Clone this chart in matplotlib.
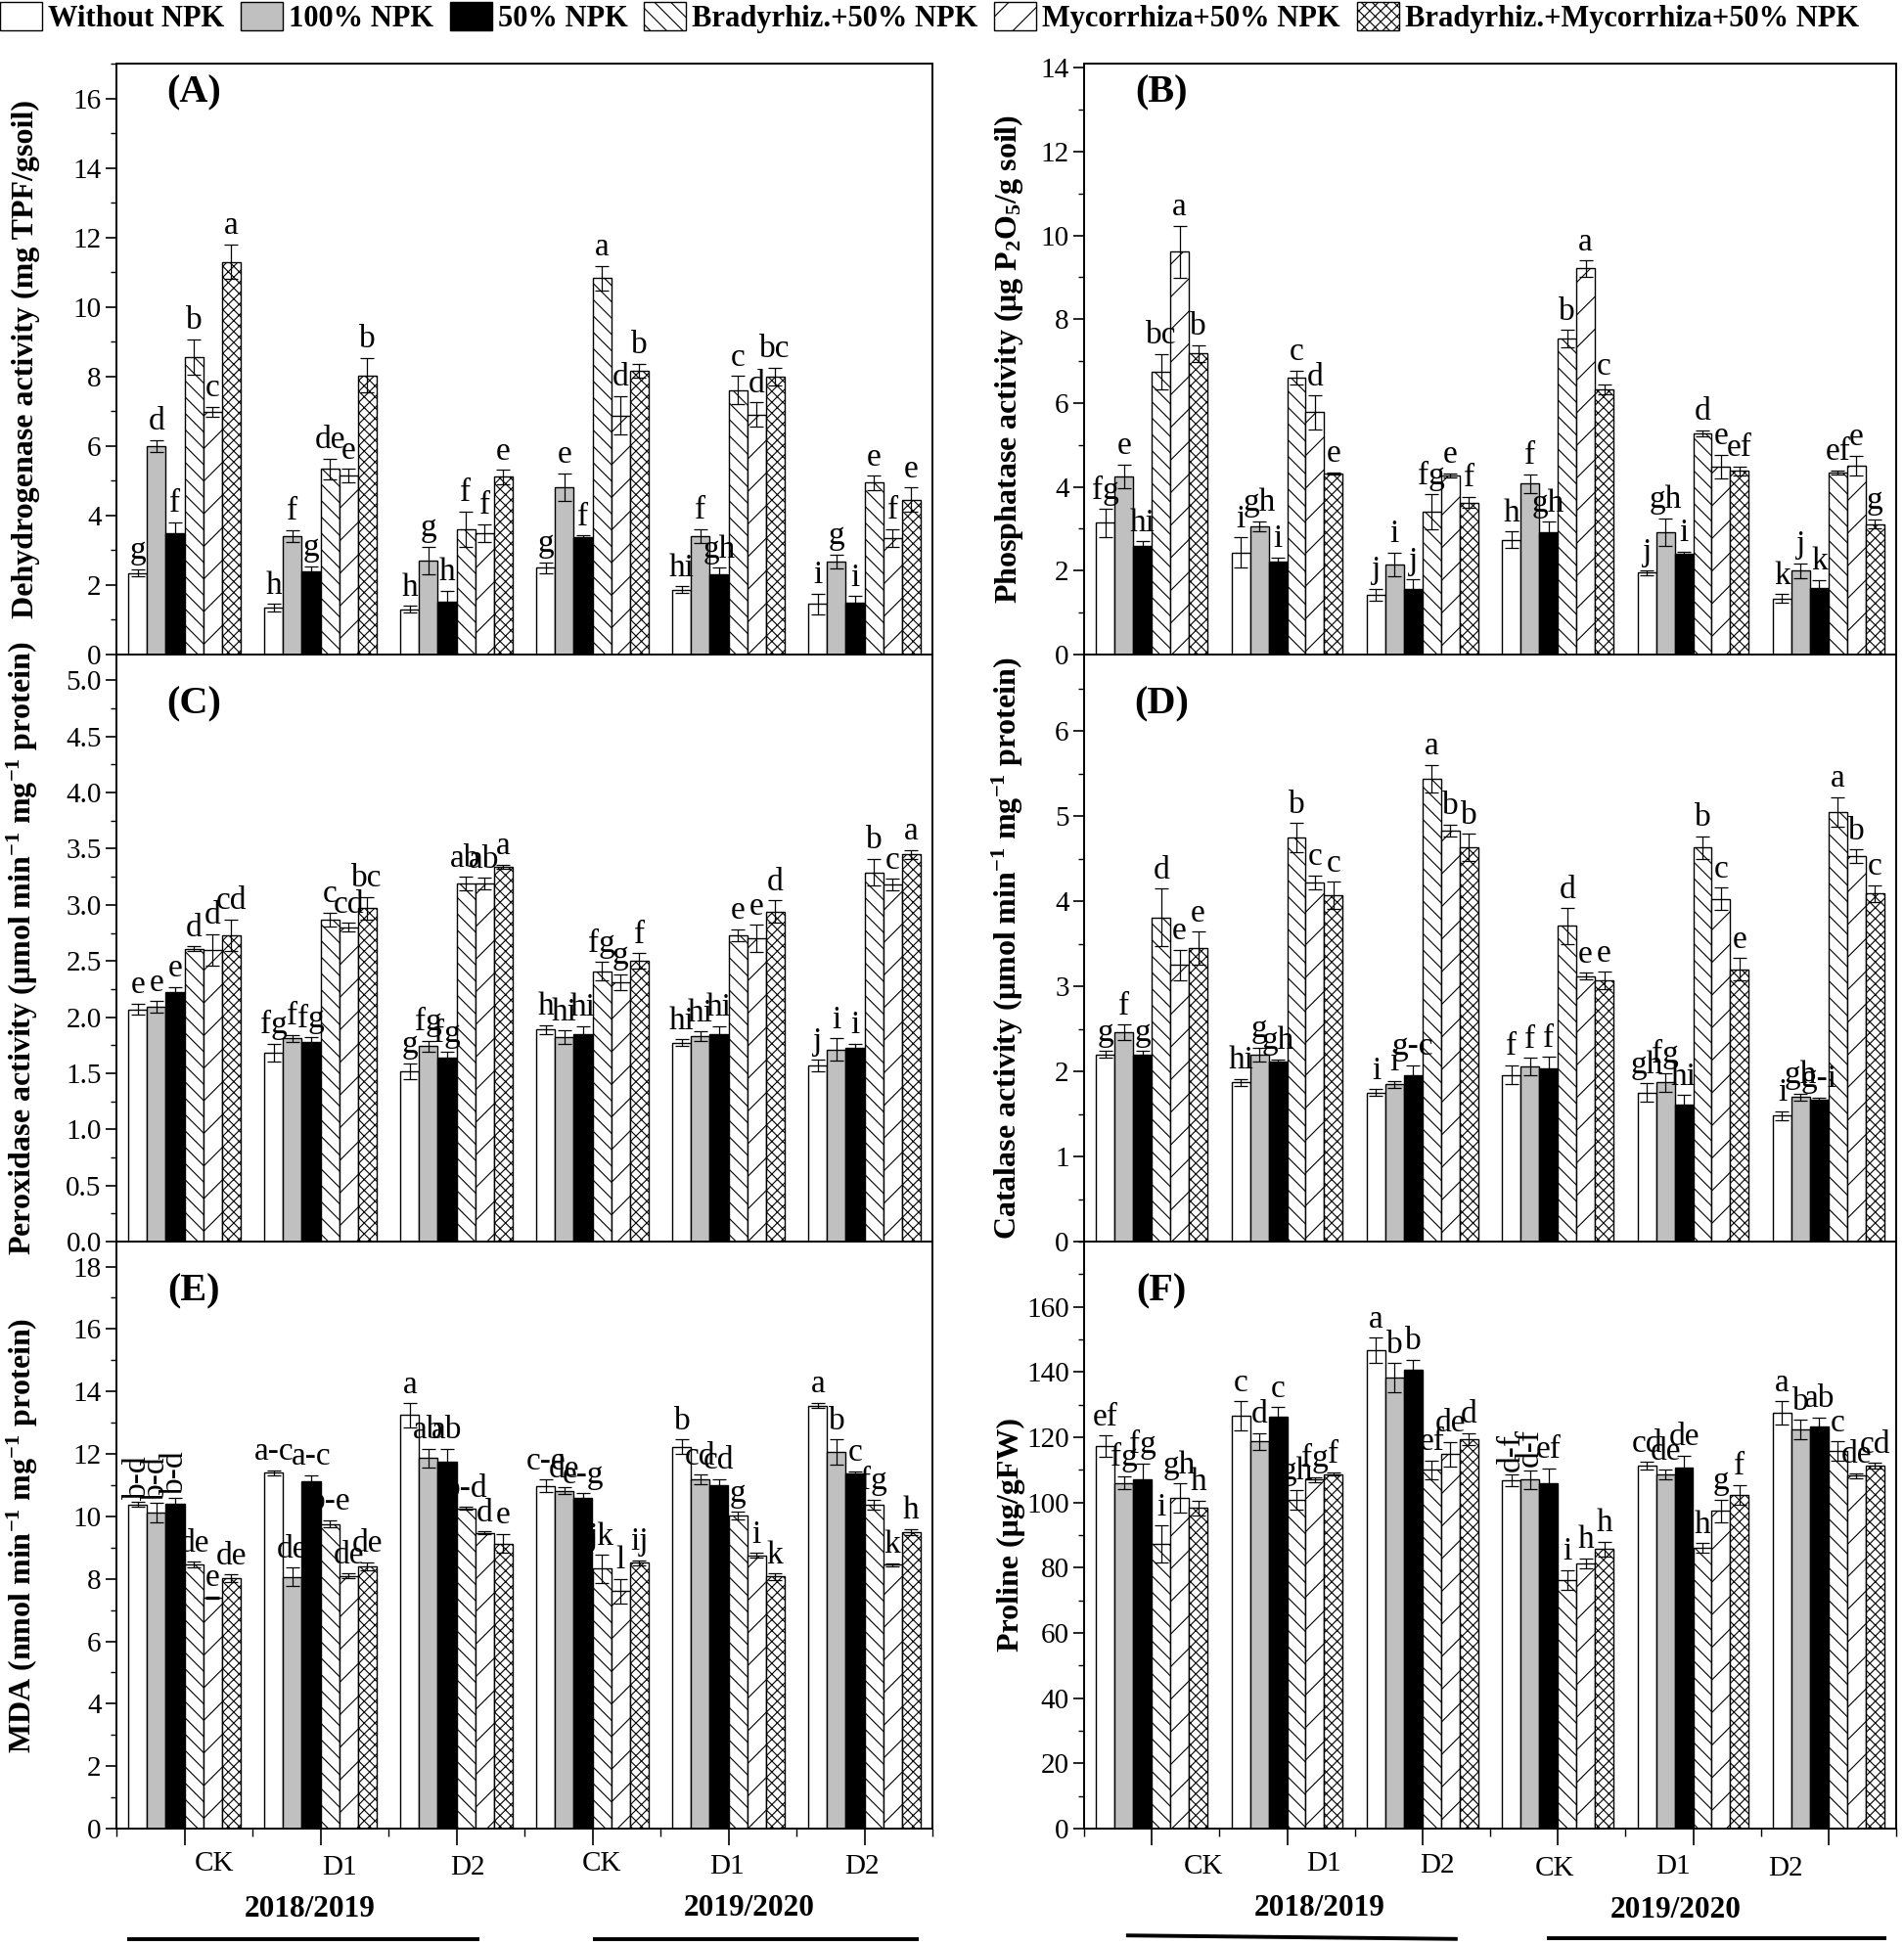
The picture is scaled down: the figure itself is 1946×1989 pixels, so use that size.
import numpy as np
import matplotlib
matplotlib.use("Agg")
import matplotlib.pyplot as plt
import matplotlib.transforms as mtransforms
from matplotlib.patches import Patch
from matplotlib.ticker import FixedLocator, MultipleLocator, FormatStrFormatter

plt.rcParams["font.family"] = ["Liberation Serif", "DejaVu Serif"]
plt.rcParams["mathtext.fontset"] = "custom"
plt.rcParams["mathtext.rm"] = "Liberation Serif:bold"
plt.rcParams["mathtext.bf"] = "Liberation Serif:bold"
plt.rcParams["mathtext.it"] = "Liberation Serif:italic:bold"
plt.rcParams["mathtext.default"] = "rm"
plt.rcParams["hatch.linewidth"] = 0.8

treatments = ["Without NPK", "100% NPK", "50% NPK", "Bradyrhiz.+50% NPK",
              "Mycorrhiza+50% NPK", "Bradyrhiz.+Mycorrhiza+50% NPK"]
groups = ["CK", "D1", "D2", "CK", "D1", "D2"]
seasons = ["2018/2019", "2019/2020"]

# rows = CK, D1, D2 (2018/2019), CK, D1, D2 (2019/2020); columns = treatments
dehydrogenase = [[2.35, 6.00, 3.50, 8.56, 6.99, 11.30],
                 [1.35, 3.41, 2.39, 5.34, 5.14, 8.03],
                 [1.30, 2.70, 1.53, 3.61, 3.49, 5.11],
                 [2.50, 4.82, 3.38, 10.83, 6.88, 8.16],
                 [1.86, 3.41, 2.30, 7.61, 6.90, 8.00],
                 [1.45, 2.67, 1.48, 4.94, 3.35, 4.45]]
dehydrogenase_err = [[0.10, 0.17, 0.30, 0.50, 0.14, 0.50],
                     [0.10, 0.17, 0.15, 0.30, 0.20, 0.50],
                     [0.10, 0.40, 0.30, 0.50, 0.25, 0.20],
                     [0.15, 0.40, 0.05, 0.35, 0.55, 0.20],
                     [0.10, 0.20, 0.20, 0.40, 0.35, 0.25],
                     [0.30, 0.20, 0.20, 0.20, 0.25, 0.35]]
dehydrogenase_letters = [["g", "d", "f", "b", "c", "a"],
                         ["h", "f", "g", "de", "e", "b"],
                         ["h", "g", "h", "f", "f", "e"],
                         ["g", "e", "f", "a", "d", "b"],
                         ["hi", "f", "gh", "c", "d", "bc"],
                         ["i", "g", "i", "e", "f", "e"]]

phosphatase = [[3.14, 4.25, 2.60, 6.75, 9.61, 7.18],
               [2.43, 3.06, 2.22, 6.61, 5.78, 4.32],
               [1.43, 2.15, 1.56, 3.40, 4.27, 3.63],
               [2.74, 4.08, 2.91, 7.54, 9.21, 6.33],
               [1.95, 2.92, 2.40, 5.28, 4.48, 4.38],
               [1.34, 2.00, 1.59, 4.34, 4.51, 3.11]]
phosphatase_err = [[0.33, 0.28, 0.10, 0.42, 0.62, 0.20],
                   [0.36, 0.12, 0.10, 0.17, 0.40, 0.03],
                   [0.14, 0.28, 0.23, 0.42, 0.05, 0.14],
                   [0.19, 0.22, 0.26, 0.20, 0.19, 0.11],
                   [0.05, 0.33, 0.05, 0.07, 0.28, 0.10],
                   [0.10, 0.17, 0.19, 0.05, 0.24, 0.11]]
phosphatase_letters = [["fg", "e", "hi", "bc", "a", "b"],
                       ["i", "gh", "i", "c", "d", "e"],
                       ["j", "i", "j", "fg", "e", "f"],
                       ["h", "f", "gh", "b", "a", "c"],
                       ["j", "gh", "i", "d", "e", "ef"],
                       ["k", "j", "k", "ef", "e", "g"]]

peroxidase = [[2.07, 2.09, 2.22, 2.61, 2.60, 2.73],
              [1.68, 1.81, 1.78, 2.87, 2.80, 2.97],
              [1.52, 1.74, 1.64, 3.19, 3.19, 3.34],
              [1.89, 1.82, 1.85, 2.41, 2.31, 2.50],
              [1.77, 1.83, 1.85, 2.73, 2.70, 2.94],
              [1.57, 1.71, 1.73, 3.29, 3.18, 3.45]]
peroxidase_err = [[0.05, 0.05, 0.05, 0.02, 0.14, 0.14],
                  [0.08, 0.03, 0.04, 0.06, 0.04, 0.10],
                  [0.07, 0.05, 0.05, 0.06, 0.05, 0.02],
                  [0.04, 0.06, 0.07, 0.08, 0.07, 0.07],
                  [0.03, 0.04, 0.07, 0.05, 0.12, 0.10],
                  [0.05, 0.10, 0.03, 0.12, 0.05, 0.04]]
peroxidase_letters = [["e", "e", "e", "d", "d", "cd"],
                      ["fg", "f", "fg", "c", "cd", "bc"],
                      ["g", "fg", "fg", "ab", "ab", "a"],
                      ["h", "hi", "hi", "fg", "g", "f"],
                      ["hi", "hi", "hi", "e", "e", "d"],
                      ["j", "i", "i", "b", "c", "a"]]

catalase = [[2.20, 2.46, 2.20, 3.81, 3.25, 3.45],
            [1.87, 2.20, 2.12, 4.75, 4.22, 4.07],
            [1.75, 1.85, 1.95, 5.44, 4.83, 4.63],
            [1.96, 2.06, 2.04, 3.71, 3.12, 3.07],
            [1.75, 1.87, 1.61, 4.63, 4.03, 3.20],
            [1.48, 1.70, 1.67, 5.05, 4.53, 4.09]]
catalase_err = [[0.04, 0.09, 0.04, 0.34, 0.18, 0.19],
                [0.04, 0.08, 0.02, 0.17, 0.08, 0.16],
                [0.04, 0.04, 0.12, 0.16, 0.07, 0.16],
                [0.11, 0.10, 0.13, 0.21, 0.04, 0.10],
                [0.11, 0.11, 0.11, 0.13, 0.13, 0.13],
                [0.05, 0.04, 0.02, 0.17, 0.08, 0.10]]
catalase_letters = [["g", "f", "g", "d", "e", "e"],
                    ["hi", "g", "gh", "b", "c", "c"],
                    ["i", "i", "g-c", "a", "b", "b"],
                    ["f", "f", "f", "d", "e", "e"],
                    ["gh", "fg", "hi", "b", "c", "e"],
                    ["i", "gh", "g-i", "a", "b", "c"]]

mda = [[10.38, 10.12, 10.40, 8.46, 7.40, 8.02],
       [11.40, 8.06, 11.13, 9.76, 8.09, 8.40],
       [13.24, 11.86, 11.76, 10.25, 9.47, 9.13],
       [10.98, 10.82, 10.59, 8.32, 7.60, 8.51],
       [12.23, 11.18, 11.00, 10.02, 8.75, 8.07],
       [13.55, 12.06, 11.37, 10.38, 8.45, 9.50]]
mda_err = [[0.08, 0.30, 0.20, 0.08, 0.03, 0.12],
           [0.08, 0.30, 0.19, 0.12, 0.08, 0.12],
           [0.38, 0.30, 0.40, 0.05, 0.05, 0.30],
           [0.20, 0.10, 0.15, 0.45, 0.40, 0.08],
           [0.23, 0.15, 0.20, 0.12, 0.08, 0.10],
           [0.08, 0.40, 0.08, 0.15, 0.05, 0.10]]
mda_letters = [["b-d", "b-d", "b-d", "de", "e", "de"],
               ["a-c", "de", "a-c", "b-e", "de", "de"],
               ["a", "ab", "ab", "b-d", "d", "e"],
               ["c-e", "de", "e-g", "jk", "l", "ij"],
               ["b", "cd", "cd", "g", "i", "k"],
               ["a", "b", "c", "fg", "k", "h"]]

proline = [[117.2, 106.0, 107.0, 87.2, 101.3, 98.3],
           [126.5, 118.7, 126.2, 100.8, 107.0, 108.7],
           [146.7, 138.2, 140.7, 110.0, 114.8, 119.5],
           [106.7, 107.0, 106.0, 76.3, 81.3, 85.7],
           [111.2, 108.5, 110.8, 86.0, 97.4, 102.3],
           [127.5, 122.3, 123.2, 115.7, 108.2, 111.3]]
proline_err = [[3.3, 2.0, 5.0, 5.7, 4.5, 2.3],
               [4.5, 2.5, 3.0, 3.0, 0.8, 0.4],
               [3.8, 4.5, 3.0, 2.8, 3.8, 1.8],
               [1.8, 2.8, 4.5, 3.0, 1.5, 2.2],
               [1.2, 1.5, 3.5, 1.5, 3.5, 3.0],
               [3.5, 3.0, 2.8, 3.0, 0.8, 0.8]]
proline_letters = [["ef", "fg", "fg", "i", "gh", "h"],
                   ["c", "d", "c", "gh", "fg", "f"],
                   ["a", "b", "b", "ef", "de", "d"],
                   ["d-f", "d-f", "ef", "i", "h", "h"],
                   ["cd", "de", "de", "h", "g", "f"],
                   ["a", "b", "ab", "c", "de", "cd"]]

# bar styles per treatment
face = ["white", "#c0c0c0", "black", "white", "white", "white"]
hatches = ["", "", "", "\\\\", "/", "xxx"]

panels = [
    dict(tag="(A)", vals=dehydrogenase, err=dehydrogenase_err, let=dehydrogenase_letters,
         ylabel="Dehydrogenase activity (mg TPF/gsoil)", ylim=17.0,
         ticks=np.arange(0, 17, 2), minor=1, fmt="%d", rot=[]),
    dict(tag="(B)", vals=phosphatase, err=phosphatase_err, let=phosphatase_letters,
         ylabel="Phosphatase activity (μg P$_2$O$_5$/g soil)", ylim=14.1,
         ticks=np.arange(0, 15, 2), minor=1, fmt="%d", rot=[]),
    dict(tag="(C)", vals=peroxidase, err=peroxidase_err, let=peroxidase_letters,
         ylabel="Peroxidase activity (μmol min$^{-1}$ mg$^{-1}$ protein)", ylim=5.23,
         ticks=np.arange(0, 5.01, 0.5), minor=0.25, fmt="%.1f", rot=[]),
    dict(tag="(D)", vals=catalase, err=catalase_err, let=catalase_letters,
         ylabel="Catalase activity (μmol min$^{-1}$ mg$^{-1}$ protein)", ylim=6.9,
         ticks=np.arange(0, 7, 1), minor=0.5, fmt="%d", rot=[]),
    dict(tag="(E)", vals=mda, err=mda_err, let=mda_letters,
         ylabel="MDA (nmol min$^{-1}$ mg$^{-1}$ protein)", ylim=18.8,
         ticks=np.arange(0, 19, 2), minor=1, fmt="%d", rot=[(0, 0), (0, 1), (0, 2)]),
    dict(tag="(F)", vals=proline, err=proline_err, let=proline_letters,
         ylabel="Proline (μg/gFW)", ylim=180.0,
         ticks=np.arange(0, 161, 20), minor=10, fmt="%d", rot=[(3, 0), (3, 1)]),
]

W, H = 1946, 1989
fig = plt.figure(figsize=(W / 100, H / 100), dpi=100)

col_x = [(119, 953), (1108, 1938)]
row_y = [(65, 669), (669, 1269), (1269, 1869)]
bw = 0.137
x = np.arange(len(groups))

axes = []
for k, p in enumerate(panels):
    r, c = divmod(k, 2)
    x0, x1 = col_x[c]
    y0, y1 = row_y[r]
    ax = fig.add_axes([x0 / W, 1 - y1 / H, (x1 - x0) / W, (y1 - y0) / H])
    axes.append(ax)
    vals = np.array(p["vals"])
    err = np.array(p["err"])
    for i in range(len(treatments)):
        ax.bar(x + (i - 2.5) * bw, vals[:, i], bw, yerr=err[:, i], color=face[i],
               edgecolor="black", hatch=hatches[i], linewidth=1.0,
               error_kw=dict(ecolor="black", elinewidth=0.9, capsize=5, capthick=0.9))
    pad = p["ylim"] * 0.006
    for g in range(len(groups)):
        for i in range(len(treatments)):
            top = vals[g, i] + err[g, i] + pad
            rot = 90 if (g, i) in p["rot"] else 0
            ax.text(x[g] + (i - 2.5) * bw, top, p["let"][g][i], ha="center", va="bottom",
                    fontsize=24, rotation=rot)
    ax.set_xlim(-0.5, 5.5)
    ax.set_ylim(0, p["ylim"])
    ax.yaxis.set_major_locator(FixedLocator(p["ticks"]))
    ax.yaxis.set_minor_locator(MultipleLocator(p["minor"]))
    ax.yaxis.set_major_formatter(FormatStrFormatter(p["fmt"]))
    ax.tick_params(axis="y", which="major", direction="out", length=8, width=1.2,
                   labelsize=21, pad=3)
    ax.tick_params(axis="y", which="minor", direction="out", length=4, width=1.0)
    for s in ax.spines.values():
        s.set_linewidth(1.4)
    ax.set_ylabel(p["ylabel"], fontsize=23, fontweight="bold")
    ax.yaxis.set_label_coords(-0.094 if c == 0 else -0.072, 0.5)
    ty = 0.95 if r == 0 else 0.915
    ax.text(0.095, ty, p["tag"], transform=ax.transAxes, fontsize=29,
            fontweight="bold", ha="center", va="center")
    if r < 2:
        ax.tick_params(axis="x", which="both", bottom=False, labelbottom=False)
    else:
        ax.xaxis.set_major_locator(FixedLocator(x))
        ax.xaxis.set_minor_locator(FixedLocator(np.arange(-0.5, 5.6, 1.0)))
        ax.tick_params(axis="x", which="major", direction="out", length=12, width=1.2,
                       labelbottom=False)
        ax.tick_params(axis="x", which="minor", direction="out", length=6, width=1.0)

# group / season labels below the bottom panels (manual offsets as in the original)
label_dx = [[0.22, 0.14, 0.08, 0.07, -0.01, -0.02],
            [0.38, 0.27, 0.11, -0.02, -0.15, -0.32]]
label_y = [[-0.060, -0.067, -0.067, -0.060, -0.065, -0.065],
           [-0.065, -0.060, -0.063, -0.068, -0.065, -0.068]]
season_x = [[0.92, 4.15], [1.24, 3.87]]
season_y = [[-0.138, -0.135], [-0.135, -0.140]]
line_x = [[(-0.42, 2.17), (3.00, 5.40)], [(-0.19, 2.26), (2.92, 5.43)]]
line_y = [[(-0.188, -0.188), (-0.188, -0.188)], [(-0.182, -0.188), (-0.187, -0.187)]]

for c, ax in enumerate(axes[4:6]):
    tr = mtransforms.blended_transform_factory(ax.transData, ax.transAxes)
    for g in range(len(groups)):
        ax.text(x[g] + label_dx[c][g], label_y[c][g], groups[g], transform=tr,
                ha="center", va="center", fontsize=21, clip_on=False)
    for s in range(2):
        ax.text(season_x[c][s], season_y[c][s], seasons[s], transform=tr,
                ha="center", va="center", fontsize=22.5, fontweight="bold")
        ax.plot(line_x[c][s], line_y[c][s], transform=tr, color="black", lw=2.8,
                clip_on=False, solid_capstyle="butt")

handles = [Patch(facecolor=face[i], edgecolor="black", hatch=hatches[i], linewidth=1.0)
           for i in range(len(treatments))]
fig.legend(handles, treatments, loc="center left", bbox_to_anchor=(0.0, 0.991),
           ncol=6, frameon=False, prop=dict(size=22, weight="bold"),
           handlelength=1.4, handleheight=1.1, handletextpad=0.2,
           columnspacing=0.55, borderaxespad=0, borderpad=0)

fig.savefig("out.png", dpi=100, facecolor="white")
